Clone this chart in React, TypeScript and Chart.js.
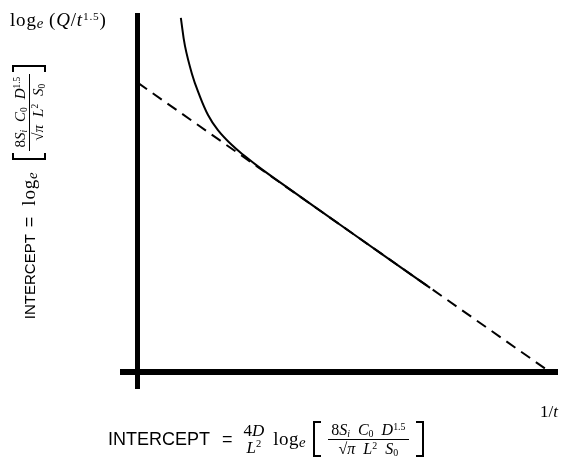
import React, { useEffect, useRef } from "react";
import { Chart, registerables } from "chart.js";

Chart.register(...registerables);

// Asymptote (dashed straight line) and the measured curve
const asymptoteX = [0, 10];
const asymptoteY = [10, 0];
const curveX = [1.04, 1.14, 1.31, 1.46, 1.7, 1.94, 2.28, 2.6, 2.96, 3.45, 5.2, 7.09];
const curveY = [12.25, 11.28, 10.31, 9.69, 8.89, 8.37, 7.85, 7.46, 7.06, 6.56, 4.8, 2.91];

const X_MIN = -0.364;
const X_MAX = 10.17;
const Y_MIN = -0.554;
const Y_MAX = 12.35;

const serif = '"Liberation Serif", "DejaVu Serif", serif';
const sans = '"Liberation Sans", Arial, sans-serif';

const subStyle: React.CSSProperties = { fontSize: "0.62em", verticalAlign: "-0.25em", lineHeight: 0, fontStyle: "normal" };
const supStyle: React.CSSProperties = { fontSize: "0.62em", verticalAlign: "0.55em", lineHeight: 0, fontStyle: "normal" };
const eSub: React.CSSProperties = { fontSize: "0.78em", verticalAlign: "-0.12em", lineHeight: 0, fontStyle: "italic" };

function Bracket({ side, h, w, t }: { side: "l" | "r"; h: number; w: number; t: number }) {
  const s: React.CSSProperties = {
    width: w,
    height: h,
    borderTop: `${t}px solid #000`,
    borderBottom: `${t}px solid #000`,
    boxSizing: "border-box",
    flex: "none",
  };
  if (side === "l") s.borderLeft = `${t}px solid #000`;
  else s.borderRight = `${t}px solid #000`;
  return <div style={s} />;
}

function Frac({ num, den, size, gap }: { num: React.ReactNode; den: React.ReactNode; size: number; gap?: number }) {
  return (
    <div style={{ display: "inline-flex", flexDirection: "column", alignItems: "center", fontFamily: serif, fontSize: size, lineHeight: 1, margin: `0 ${gap ?? 2}px` }}>
      <div style={{ padding: "0 3px 1px" }}>{num}</div>
      <div style={{ alignSelf: "stretch", borderTop: "1px solid #000" }} />
      <div style={{ padding: "1px 3px 0" }}>{den}</div>
    </div>
  );
}

const sp = (w: number) => <span style={{ display: "inline-block", width: w }} />;

const makeNumerator = (s: number) => (
  <span style={{ whiteSpace: "nowrap" }}>
    8<i>S</i><span style={{ ...subStyle, fontStyle: "italic" }}>i</span>{sp(s)}<i>C</i><span style={subStyle}>0</span>{sp(s)}<i>D</i><span style={supStyle}>1.5</span>
  </span>
);
const makeDenominator = (s: number) => (
  <span style={{ whiteSpace: "nowrap" }}>
    √<i>π</i>{sp(s)}<i>L</i><span style={supStyle}>2</span>{sp(s)}<i>S</i><span style={subStyle}>0</span>
  </span>
);

export default function App() {
  const ref = useRef<HTMLCanvasElement | null>(null);

  useEffect(() => {
    if (!ref.current) return;
    const chart = new Chart(ref.current, {
      type: "line",
      data: {
        datasets: [
          {
            data: asymptoteX.map((x, i) => ({ x, y: asymptoteY[i] })),
            borderColor: "#000",
            borderWidth: 2,
            borderDash: [11, 7],
            pointRadius: 0,
            fill: false,
          },
          {
            data: curveX.map((x, i) => ({ x, y: curveY[i] })),
            borderColor: "#000",
            borderWidth: 2,
            pointRadius: 0,
            tension: 0.4,
            fill: false,
          },
        ],
      },
      options: {
        animation: false,
        responsive: false,
        maintainAspectRatio: false,
        layout: { padding: { left: 123, right: 8, top: 15, bottom: 69 } },
        plugins: { legend: { display: false }, tooltip: { enabled: false } },
        scales: {
          x: {
            type: "linear",
            min: X_MIN,
            max: X_MAX,
            position: { y: 0 } as any,
            grid: { display: false, drawTicks: false },
            ticks: { display: false },
            border: { display: true, width: 6, color: "#000" },
          },
          y: {
            type: "linear",
            min: Y_MIN,
            max: Y_MAX,
            position: { x: 0 } as any,
            grid: { display: false, drawTicks: false },
            ticks: { display: false },
            border: { display: true, width: 5, color: "#000" },
          },
        },
      },
    });
    return () => chart.destroy();
  }, []);

  return (
    <div style={{ position: "absolute", left: 0, top: 0, width: 565, height: 457, background: "#fff", overflow: "hidden" }}>
      <canvas ref={ref} width={565} height={457} style={{ position: "absolute", left: 0, top: 0 }} />

      {/* top-left y label */}
      <div style={{ position: "absolute", left: 10, top: 9, fontFamily: serif, fontSize: 19, whiteSpace: "nowrap", letterSpacing: 0.8 }}>
        log<span style={eSub}>e</span>{sp(5)}(<i>Q</i>/<i>t</i>
        <span style={{ ...supStyle, fontSize: "0.6em" }}>1.5</span>)
      </div>

      {/* 1/t */}
      <div style={{ position: "absolute", left: 540, top: 402, fontFamily: serif, fontSize: 17, whiteSpace: "nowrap" }}>
        1/<i>t</i>
      </div>

      {/* rotated intercept label */}
      <div
        style={{
          position: "absolute",
          left: 29 - 150,
          top: 192 - 20,
          width: 300,
          height: 40,
          transform: "rotate(-90deg)",
          display: "flex",
          alignItems: "center",
          justifyContent: "center",
          whiteSpace: "nowrap",
        }}
      >
        <span style={{ fontFamily: sans, fontSize: 15 }}>INTERCEPT</span>
        <span style={{ fontFamily: sans, fontSize: 18, margin: "0 11px 0 7px" }}>=</span>
        <span style={{ fontFamily: serif, fontSize: 19, marginRight: 12, letterSpacing: 0.8 }}>
          log<span style={eSub}>e</span>
        </span>
        <Bracket side="l" h={34} w={7} t={2} />
        <Frac num={makeNumerator(8)} den={makeDenominator(8)} size={15} gap={2} />
        <Bracket side="r" h={34} w={7} t={2} />
      </div>

      {/* bottom intercept label */}
      <div
        style={{
          position: "absolute",
          left: 108,
          top: 421,
          height: 36,
          display: "flex",
          alignItems: "center",
          whiteSpace: "nowrap",
        }}
      >
        <span style={{ fontFamily: sans, fontSize: 18 }}>INTERCEPT</span>
        <span style={{ fontFamily: sans, fontSize: 18, margin: "0 11px 0 12px" }}>=</span>
        <div style={{ display: "inline-flex", flexDirection: "column", alignItems: "center", fontFamily: serif, fontSize: 17, lineHeight: 1, marginRight: 9 }}>
          <span>4<i>D</i></span>
          <span><i>L</i><span style={supStyle}>2</span></span>
        </div>
        <span style={{ fontFamily: serif, fontSize: 19, marginRight: 7, letterSpacing: 0.5 }}>
          log<span style={eSub}>e</span>
        </span>
        <Bracket side="l" h={36} w={8} t={2} />
        <Frac num={makeNumerator(8)} den={makeDenominator(8)} size={16} gap={7} />
        <Bracket side="r" h={36} w={8} t={2} />
      </div>
    </div>
  );
}
